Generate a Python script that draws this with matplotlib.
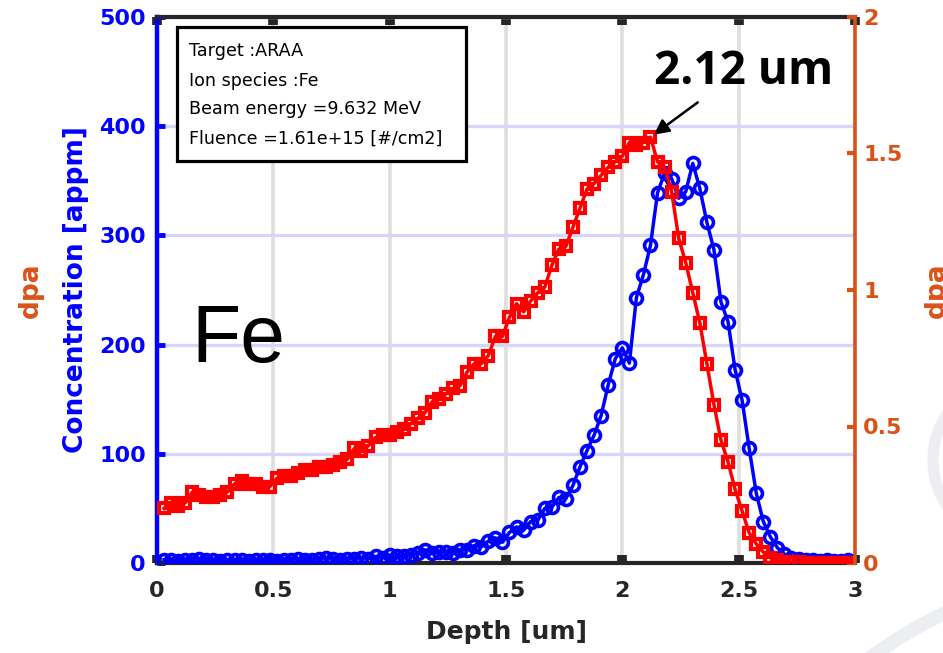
import numpy as np
import matplotlib.pyplot as plt
from matplotlib.patches import Rectangle, Circle

plt.rcParams['font.family'] = ['DejaVu Sans']
plt.rcParams['font.weight'] = 'bold'
plt.rcParams['axes.labelweight'] = 'bold'

# SRIM output: 100 depth bins of 0.0303 um
bin_width = 0.0303
depth = bin_width * np.arange(1, 101)

# Fe concentration [appm]
conc = [3, 3, 2, 3, 3, 4, 3, 3, 2, 3,
        3, 3, 2, 3, 3, 3, 2, 3, 3, 4,
        3, 3, 4, 5, 4, 3, 4, 4, 5, 4,
        6, 5, 7, 6, 6, 7, 9, 12, 9, 10,
        10, 9, 12, 12, 16, 15, 20, 23, 19, 28,
        33, 30, 38, 39, 50, 51, 60, 59, 71, 88,
        103, 117, 135, 163, 187, 197, 183, 243, 264, 291,
        339, 357, 352, 334, 340, 366, 343, 312, 287, 239,
        221, 177, 149, 105, 64, 38, 24, 14, 8, 5,
        4, 3, 3, 2, 3, 2, 2, 3, 2, 2]

# damage [dpa]
dpa = [0.20, 0.22, 0.21, 0.22, 0.26, 0.25, 0.24, 0.24, 0.25, 0.26,
       0.29, 0.30, 0.29, 0.29, 0.28, 0.28, 0.31, 0.32, 0.32, 0.33,
       0.34, 0.34, 0.35, 0.35, 0.36, 0.37, 0.38, 0.42, 0.41, 0.43,
       0.46, 0.47, 0.47, 0.48, 0.49, 0.51, 0.53, 0.55, 0.59, 0.60,
       0.62, 0.64, 0.65, 0.70, 0.73, 0.73, 0.76, 0.83, 0.83, 0.90,
       0.95, 0.92, 0.96, 0.99, 1.01, 1.09, 1.15, 1.16, 1.23, 1.30,
       1.37, 1.39, 1.42, 1.45, 1.47, 1.49, 1.54, 1.53, 1.54, 1.56,
       1.47, 1.45, 1.36, 1.19, 1.10, 0.99, 0.88, 0.73, 0.58, 0.45,
       0.37, 0.27, 0.19, 0.11, 0.07, 0.04, 0.02, 0.01, 0.005, 0.003,
       0.002, 0.001, 0.001, 0, 0, 0, 0, 0, 0, 0]

info_lines = ["Target :ARAA", "Ion species :Fe",
              "Beam energy =9.632 MeV", "Fluence =1.61e+15 [#/cm2]"]

xticks = [0, 0.5, 1, 1.5, 2, 2.5, 3]
xticklabels = ["0", "0.5", "1", "1.5", "2", "2.5", "3"]
cticks = [0, 100, 200, 300, 400, 500]
dticks = [0, 0.5, 1, 1.5, 2]
dticklabels = ["0", "0.5", "1", "1.5", "2"]

blue = '#0000FF'
red = '#FF0000'
orange = '#D95319'
dark = '#262626'

W, H = 943, 653
fig = plt.figure(figsize=(W / 100, H / 100), dpi=100)
fig.patch.set_facecolor('white')

# faint background swooshes (inches from bottom-left)
for (cx, cy, r, lw) in [(10.15, 1.93, 0.82, 8), (11.25, -3.45, 4.25, 10)]:
    fig.add_artist(Circle((cx, cy), r, transform=fig.dpi_scale_trans,
                          fill=False, ec='#ECEEF2', lw=lw, zorder=0))

ax = fig.add_axes([157 / W, 1 - 563 / H, 698 / W, 546 / H])
ax2 = ax.twinx()

ax.plot(depth, conc, '-o', color=blue, lw=2.5, ms=8.6, mew=2.6,
        mfc='none', zorder=3)
ax2.plot(depth, dpa, '-s', color=red, lw=2.5, ms=6.8, mew=3.0, mfc='none')

ax.set_xlim(0, 3)
ax.set_ylim(0, 500)
ax2.set_ylim(0, 2)
ax.set_xticks(xticks)
ax.set_xticklabels(xticklabels)
ax.set_yticks(cticks)
ax2.set_yticks(dticks)
ax2.set_yticklabels(dticklabels)

ax.grid(axis='x', color='#DEDEDE', lw=2.6)
ax.grid(axis='y', color='#D6D6FA', lw=2.4)
ax.set_axisbelow(True)

for s in ['top', 'bottom']:
    ax.spines[s].set_color(dark)
    ax.spines[s].set_linewidth(3)
ax.spines['left'].set_color(blue)
ax.spines['left'].set_linewidth(3.2)
ax.spines['right'].set_visible(False)
for s in ['top', 'bottom', 'left']:
    ax2.spines[s].set_visible(False)
ax2.spines['right'].set_color(orange)
ax2.spines['right'].set_linewidth(2.6)

ax.tick_params(axis='x', direction='in', top=True, bottom=True, length=6,
               width=7, color=dark, labelcolor=dark, labelsize=16, pad=13)
ax.tick_params(axis='y', direction='in', length=6, width=3.5, color=blue,
               labelcolor=blue, labelsize=16, pad=8)
ax2.tick_params(axis='y', direction='in', length=6, width=3, color=orange,
                labelcolor=orange, labelsize=16, pad=6)

ax.set_xlabel("Depth [um]", fontsize=18, fontweight='bold', color=dark)
ax.xaxis.set_label_coords(0.5, -0.104)
ax.set_ylabel("Concentration [appm]", fontsize=19, fontweight='bold',
              color=blue, va='center')
ax.yaxis.set_label_coords(-0.116, 0.5)
ax2.set_ylabel("dpa", fontsize=19, fontweight='bold', color=orange,
               rotation=90, va='center')
ax2.yaxis.set_label_coords(1.117, 0.5)

# axis label of the neighbouring panel, cut at the left edge
fig.text(31 / W, 1 - 290 / H, "dpa", fontsize=19, fontweight='bold',
         color=orange, rotation=90, ha='center', va='center')

# info box
fig.add_artist(Rectangle((177 / W, 1 - 161 / H), 289 / W, 134 / H,
                         transform=fig.transFigure, fc='white', ec='black',
                         lw=2.3, zorder=5))
for k, line in enumerate(info_lines):
    fig.text(189 / W, 1 - (56.5 + 29 * k) / H, line, fontsize=12.6,
             fontweight='normal', color='black', va='baseline', zorder=6)

# ion species
fig.text(191 / W, 1 - 362 / H, "Fe", fontsize=58, fontweight='normal',
         family='Liberation Sans', color='black', va='baseline')

# dpa peak
pk = int(np.argmax(dpa))
ax2.annotate("", xy=(depth[pk], dpa[pk]), xytext=(34, 25),
             textcoords='offset points',
             arrowprops=dict(arrowstyle='-|>,head_length=0.9,head_width=0.45',
                             color='black', lw=1.8, shrinkA=0, shrinkB=3))
ax2.annotate(f"{depth[pk]:.2f} um", xy=(depth[pk], dpa[pk]),
             xytext=(67, 47), textcoords='offset points', ha='center',
             va='center', fontsize=33, family='Open Sans', fontweight='bold',
             color='black')

fig.savefig('out.png', dpi=100, facecolor='white')
